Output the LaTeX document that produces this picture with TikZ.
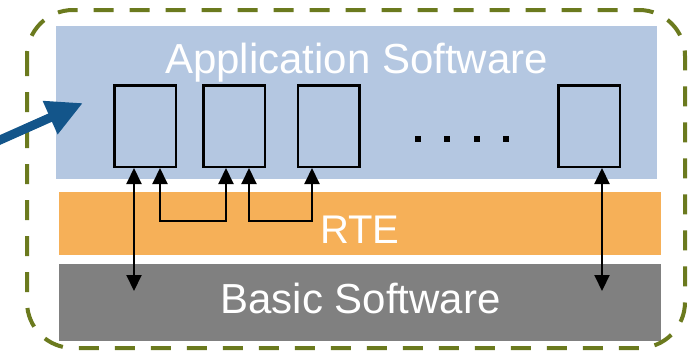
\documentclass[tikz,border=0pt]{standalone}
\usepackage{fontspec}
\setmainfont{Liberation Sans}
\usetikzlibrary{arrows.meta}
\definecolor{appblue}{RGB}{180,199,225}
\definecolor{rteorange}{RGB}{246,176,88}
\definecolor{bswgray}{RGB}{128,128,128}
\definecolor{borderolive}{RGB}{107,122,30}
\definecolor{arrowblue}{RGB}{19,85,138}
\tikzset{
  band/.style={draw=none},
  swbox/.style={draw=black, line width=2.5pt, fill=appblue, minimum width=61.5pt, minimum height=81.5pt, inner sep=0pt},
  bandlabel/.style={text=white, anchor=base, inner sep=0pt},
  link/.style={black, line width=2pt, {Triangle[length=16pt,width=15pt]}-{Triangle[length=16pt,width=15pt]}},
  dotsq/.style={fill=black, minimum size=6pt, inner sep=0pt},
}
\begin{document}
\begin{tikzpicture}[x=1pt,y=-1pt]
\useasboundingbox (0,0) rectangle (692,354);
\clip (0,0) rectangle (692,354);
% bands
\fill[appblue] (56,26) rectangle (657,179);
\fill[rteorange] (59,192) rectangle (661,255);
\fill[bswgray] (59,264) rectangle (661,341);
% labels
\node[bandlabel, font=\fontsize{42}{42}\selectfont] (app) at (356.5,73) {Application Software};
\node[bandlabel, font=\fontsize{40}{40}\selectfont] (rte) at (360,243) {RTE};
\node[bandlabel, font=\fontsize{42}{42}\selectfont] (bsw) at (360.5,313) {Basic Software};
% border
\draw[borderolive, line width=4pt, dash pattern=on 20pt off 16pt, rounded corners=46pt] (27,10) rectangle (685,348);
% component boxes
\node[swbox] (b1) at (145,126) {};
\node[swbox] (b2) at (234,126) {};
\node[swbox] (b3) at (328.5,126) {};
\node[swbox] (b4) at (589,126) {};
% dots
\node[dotsq] (d1) at (418,139) {};
\node[dotsq] (d2) at (447,139) {};
\node[dotsq] (d3) at (477,139) {};
\node[dotsq] (d4) at (506,139) {};
% free ends
\coordinate (e1) at (134,291);
\coordinate (e4) at (602,291);
% connectors
\draw[link] (b1.south -| e1) -- (e1);
\draw[link] (b4.south -| e4) -- (e4);
\draw[link] ([xshift=15pt]b1.south) -- ++(0,53) -| ([xshift=-8pt]b2.south);
\draw[link] ([xshift=15pt]b2.south) -- ++(0,53) -| ([xshift=-16.5pt]b3.south);
% incoming arrow
\coordinate (ain) at (-5,142.2);
\coordinate (aout) at (83,103);
\draw[arrowblue, line width=9pt, -{Triangle[length=36pt,width=34pt]}] (ain) -- (aout);
\end{tikzpicture}
\end{document}
